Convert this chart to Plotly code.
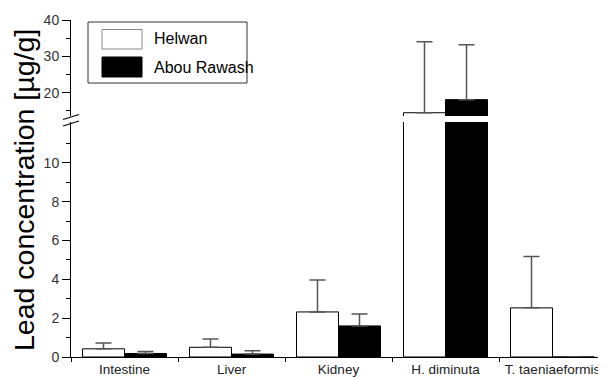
import plotly.graph_objects as go

categories = ["Intestine", "Liver", "Kidney", "H. diminuta", "T. taeniaeformis"]
helwan = [0.42, 0.50, 2.32, 14.5, 2.53]
helwan_err = [0.30, 0.43, 1.65, 19.5, 2.64]
abou = [0.18, 0.15, 1.60, 18.1, 0.0]
abou_err = [0.10, 0.17, 0.62, 15.1, 0.0]
series_names = ["Helwan", "Abou Rawash"]

# page has an 8px body margin; compensate so page pixels match the reference
OFF = 8
PAGE_W, PAGE_H = 606, 378
W, H = PAGE_W - OFF, PAGE_H - OFF
AX_L, AX_B, AX_T = 71, 357, 20          # page pixels of plot area edges
L, R, T, B = AX_L - OFF, 0, AX_T - OFF, PAGE_H - AX_B
pw, ph = W - L - R, H - T - B

def px_x(px):
    return (px - AX_L) / pw

def px_y(py):
    return (AX_B - py) / ph

low_dom = [0, px_y(122)]
up_dom = [px_y(116), 1]

font_fam = "Arial, Liberation Sans, sans-serif"
fig = go.Figure()
for yax in ["y", "y2"]:
    fig.add_trace(go.Bar(
        x=categories, y=helwan, name=series_names[0], yaxis=yax,
        marker=dict(color="white", line=dict(color="black", width=1)),
        error_y=dict(type="data", array=helwan_err, arrayminus=[0]*5, symmetric=False,
                     color="#555555", thickness=1.5, width=8),
        showlegend=False, cliponaxis=True))
    fig.add_trace(go.Bar(
        x=categories, y=abou, name=series_names[1], yaxis=yax,
        marker=dict(color="black", line=dict(color="black", width=1)),
        error_y=dict(type="data", array=abou_err, arrayminus=[0]*5, symmetric=False,
                     color="#555555", thickness=1.5, width=8),
        showlegend=False, cliponaxis=True))

tickfont = dict(family=font_fam, size=14, color="#333333")
fig.update_layout(
    template="none",
    width=W, height=H,
    margin=dict(l=L, r=R, t=T, b=B),
    paper_bgcolor="white", plot_bgcolor="white",
    barmode="group", bargap=0.215, bargroupgap=0,
    showlegend=False,
    xaxis=dict(type="category", showline=True, linecolor="black", linewidth=1,
               ticks="outside", ticklen=4, tickcolor="black", tickson="boundaries",
               showgrid=False, zeroline=False, anchor="y", automargin=False,
               tickfont=dict(family=font_fam, size=13.5, color="#222222")),
    yaxis=dict(domain=low_dom, range=[0, 12.1], tickvals=[0, 2, 4, 6, 8, 10],
               showline=True, linecolor="black", linewidth=1, ticks="outside",
               ticklen=8, tickcolor="black", showgrid=False, zeroline=False,
               automargin=False, tickfont=tickfont,
               minor=dict(tickvals=[1, 3, 5, 7, 9, 11], ticks="outside", ticklen=4,
                          tickcolor="black", showgrid=False)),
    yaxis2=dict(domain=up_dom, range=[13.6, 40], tickvals=[20, 30, 40], anchor="x",
                showline=True, linecolor="black", linewidth=1, ticks="outside",
                ticklen=8, tickcolor="black", showgrid=False, zeroline=False,
                automargin=False, tickfont=tickfont,
                minor=dict(tickvals=[15, 25, 35], ticks="outside", ticklen=4,
                           tickcolor="black", showgrid=False)),
)

shapes = []
# axis break marks
for (x0, y0, x1, y1) in [(63, 119.5, 79, 114.5), (63, 126, 79, 121)]:
    shapes.append(dict(type="line", xref="paper", yref="paper",
                       x0=px_x(x0), y0=px_y(y0), x1=px_x(x1), y1=px_y(y1),
                       line=dict(color="black", width=1.2)))
# legend box
shapes.append(dict(type="rect", xref="paper", yref="paper",
                   x0=px_x(88), y0=px_y(83), x1=px_x(247), y1=px_y(22),
                   line=dict(color="#333333", width=1), fillcolor="white", layer="above"))
shapes.append(dict(type="rect", xref="paper", yref="paper",
                   x0=px_x(102), y0=px_y(49), x1=px_x(142), y1=px_y(29.5),
                   line=dict(color="#888888", width=1), fillcolor="white", layer="above"))
shapes.append(dict(type="rect", xref="paper", yref="paper",
                   x0=px_x(102), y0=px_y(77), x1=px_x(142), y1=px_y(57),
                   line=dict(color="black", width=1), fillcolor="black", layer="above"))
fig.update_layout(shapes=shapes)

ann = [
    dict(text=series_names[0], xref="paper", yref="paper", x=px_x(152), y=px_y(39),
         xanchor="left", yanchor="middle", showarrow=False,
         font=dict(family=font_fam, size=16, color="black")),
    dict(text=series_names[1], xref="paper", yref="paper", x=px_x(152), y=px_y(67),
         xanchor="left", yanchor="middle", showarrow=False,
         font=dict(family=font_fam, size=16, color="black")),
    dict(text="Lead concentration [µg/g]", xref="paper", yref="paper",
         x=px_x(24), y=px_y(190), xanchor="center", yanchor="middle",
         textangle=-90, showarrow=False,
         font=dict(family=font_fam, size=28.5, color="black")),
]
fig.update_layout(annotations=ann)

fig.write_html("out.html")
